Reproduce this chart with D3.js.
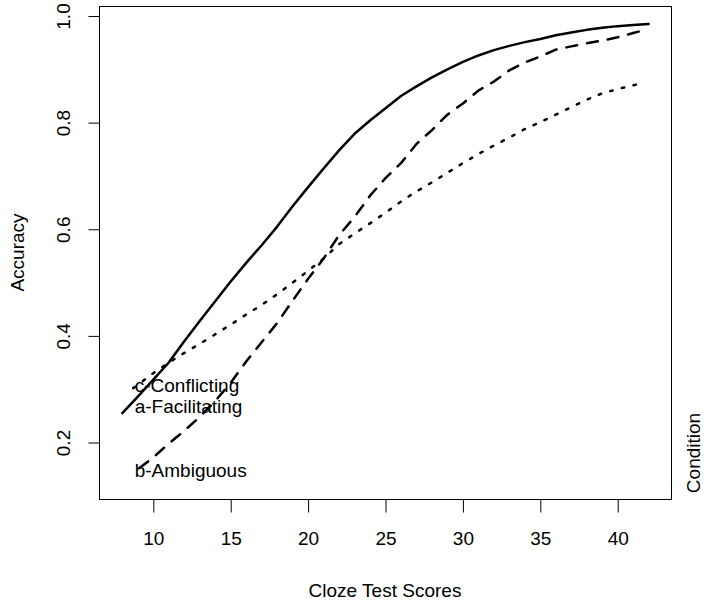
<!DOCTYPE html>
<html>
<head>
<meta charset="utf-8">
<script src="https://cdn.jsdelivr.net/npm/d3@7"></script>
<style>
  html, body { margin: 0; padding: 0; background: #fff; }
  svg { display: block; }
  text { font-family: "Liberation Sans", Arial, sans-serif; fill: #000; }
</style>
</head>
<body>
<svg id="chart" width="718" height="604"></svg>
<script>
// ---- data ----
const xTicks = [10, 15, 20, 25, 30, 35, 40];
const yTicks = [0.2, 0.4, 0.6, 0.8, 1.0];
const yTickLabels = ["0.2", "0.4", "0.6", "0.8", "1.0"];

const facilitatingX = [8, 9, 10, 11, 12, 13, 14, 15, 16, 17, 18, 19, 20, 21, 22, 23, 24, 25, 26, 27, 28, 29, 30, 31, 32, 33, 34, 35, 36, 37, 38, 39, 40, 41, 42];
const facilitatingY = [0.255, 0.286, 0.318, 0.350, 0.390, 0.428, 0.465, 0.502, 0.537, 0.570, 0.605, 0.643, 0.679, 0.714, 0.748, 0.779, 0.804, 0.827, 0.850, 0.868, 0.885, 0.900, 0.914, 0.926, 0.936, 0.944, 0.951, 0.957, 0.964, 0.969, 0.974, 0.978, 0.981, 0.983, 0.985];

const ambiguousX = [9.1, 10, 11, 12, 13, 14, 15, 16, 17, 18, 19, 20, 21, 22, 23, 24, 25, 26, 27, 28, 29, 30, 31, 32, 33, 34, 35, 36, 37, 38, 39, 40, 41, 41.4];
const ambiguousY = [0.152, 0.172, 0.198, 0.222, 0.248, 0.278, 0.312, 0.352, 0.388, 0.424, 0.466, 0.507, 0.545, 0.589, 0.623, 0.663, 0.696, 0.724, 0.760, 0.786, 0.815, 0.836, 0.860, 0.877, 0.898, 0.913, 0.924, 0.937, 0.943, 0.949, 0.954, 0.960, 0.968, 0.971];

const conflictingX = [8.7, 9, 10, 11, 12, 13, 14, 15, 16, 17, 18, 19, 20, 21, 22, 23, 24, 25, 26, 27, 28, 29, 30, 31, 32, 33, 34, 35, 36, 37, 38, 39, 40, 41, 41.55];
const conflictingY = [0.302, 0.308, 0.330, 0.350, 0.368, 0.385, 0.403, 0.421, 0.440, 0.458, 0.478, 0.500, 0.522, 0.545, 0.572, 0.592, 0.611, 0.631, 0.652, 0.671, 0.688, 0.706, 0.724, 0.741, 0.757, 0.772, 0.788, 0.801, 0.815, 0.829, 0.843, 0.855, 0.863, 0.870, 0.874];

const labelNames = ["c-Conflicting", "a-Facilitating", "b-Ambiguous"];
const labelX = [8.8, 8.8, 8.8];
const labelY = [0.306, 0.267, 0.147];

const xTitle = "Cloze Test Scores";
const yTitle = "Accuracy";
const legendTitle = "Condition";

// ---- layout ----
const svg = d3.select("#chart");
const box = { left: 99, right: 671, top: 6, bottom: 499 };

const x = d3.scaleLinear().domain([10, 40]).range([153.3, 617.7]);
const y = d3.scaleLinear().domain([0.2, 1.0]).range([442.5, 16]);

const FS = 19;
const FF = "Liberation Sans, Arial, sans-serif";

// box
svg.append("rect")
  .attr("x", box.left + 0.5).attr("y", box.top + 0.5)
  .attr("width", box.right - box.left).attr("height", box.bottom - box.top)
  .attr("fill", "none").attr("stroke", "#000").attr("stroke-width", 1);

// x axis
const xAxis = d3.axisBottom(x).tickValues(xTicks).tickSize(13).tickPadding(19)
  .tickFormat(d3.format("d"));
const gx = svg.append("g").attr("transform", `translate(0,${box.bottom + 0.5})`).call(xAxis);
gx.select(".domain").remove();
gx.selectAll("line").attr("stroke", "#000");
gx.selectAll("text").attr("font-size", FS).attr("font-family", FF).attr("fill", "#000");

// y axis
const yAxis = d3.axisLeft(y).tickValues(yTicks).tickSize(11).tickPadding(0)
  .tickFormat((d, i) => yTickLabels[i]);
const gy = svg.append("g").attr("transform", `translate(${box.left + 0.5},0)`).call(yAxis);
gy.select(".domain").remove();
gy.selectAll("line").attr("stroke", "#000");
gy.selectAll("text")
  .attr("font-size", FS).attr("font-family", FF).attr("fill", "#000")
  .attr("x", null)
  .attr("text-anchor", "middle")
  .attr("transform", "translate(-36,0) rotate(-90)")
  .attr("dy", "0.35em");

// titles
svg.append("text").attr("x", (box.left + box.right) / 2).attr("y", 590)
  .attr("text-anchor", "middle").attr("dominant-baseline", "central")
  .attr("font-size", FS).text(xTitle);
svg.append("text").attr("transform", `translate(17,${(box.top + box.bottom) / 2}) rotate(-90)`)
  .attr("text-anchor", "middle").attr("dominant-baseline", "central")
  .attr("font-size", FS).text(yTitle);
svg.append("text").attr("transform", "translate(693,453) rotate(-90)")
  .attr("text-anchor", "middle").attr("dominant-baseline", "central")
  .attr("font-size", FS).text(legendTitle);

// lines
const line = d3.line().x(d => x(d[0])).y(d => y(d[1]));
const series = [
  { xs: facilitatingX, ys: facilitatingY, dash: null },
  { xs: ambiguousX, ys: ambiguousY, dash: "11,10" },
  { xs: conflictingX, ys: conflictingY, dash: "2.5,9.5" }
];
series.forEach(s => {
  const pts = s.xs.map((v, i) => [v, s.ys[i]]);
  svg.append("path").datum(pts).attr("d", line)
    .attr("fill", "none").attr("stroke", "#000").attr("stroke-width", 2.5)
    .attr("stroke-linecap", "round").attr("stroke-linejoin", "round")
    .attr("stroke-dasharray", s.dash);
});

// labels
labelNames.forEach((name, i) => {
  svg.append("text").attr("x", x(labelX[i])).attr("y", y(labelY[i]))
    .attr("dominant-baseline", "central").attr("font-size", FS).text(name);
});
</script>
</body>
</html>
